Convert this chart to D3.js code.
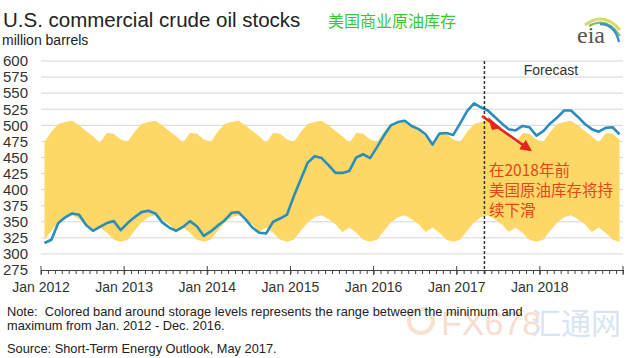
<!DOCTYPE html>
<html><head><meta charset="utf-8">
<script src="https://cdn.jsdelivr.net/npm/d3@7"></script>
<style>body{margin:0;background:#fff}svg{display:block}text{white-space:pre}</style>
</head><body>
<svg id="c" width="630" height="358"></svg>
<script>
// ---- data (million barrels), monthly Jan 2012 .. Dec 2018 ----
const stocks = [
 317,322,348,357,363,361,345,336,342,348,351,337,
 348,357,365,367,363,349,341,336,342,351,343,328,
 335,344,352,364,365,354,341,333,332,350,355,361,
 390,416,442,452,449,438,426,426,429,450,455,449,
 466,484,500,505,507,499,494,486,470,487,488,485,
 503,522,534,528,523,513,503,494,492,499,497,484,
 491,503,512,523,523,513,502,494,490,496,497,486];
// 2012-2016 monthly max / min (Jan..Dec)
const bandUpperByMonth = [474,490,502,505,507,500,491,483,473,488,487,478];
const bandLowerByMonth = [322,336,349,357,360,354,346,334,341,333,322,319];
const yTicks = [275,300,325,350,375,400,425,450,475,500,525,550,575,600];
const xYears = [2012,2013,2014,2015,2016,2017,2018];
const forecastStartMonth = 64; // May 2017
const totalMonths = 84;

const svg = d3.select("#c");
const F = "'Liberation Sans', Arial, sans-serif";
const CJK = "'Noto Sans CJK SC', sans-serif";

const x = d3.scaleLinear().domain([0, totalMonths]).range([41, 623]);
const y = d3.scaleLinear().domain([275, 600]).range([270, 61]);

// watermark (faint)
const wm = svg.append("g").attr("opacity", 0.4);
wm.append("circle").attr("cx", 421).attr("cy", 321).attr("r", 12)
  .attr("fill", "none").attr("stroke", "#f4b48e").attr("stroke-width", 4);
wm.append("text").attr("x", 441).attr("y", 335).attr("font-family", F)
  .attr("font-size", 34).attr("fill", "#f5a98a").text("FX678");
wm.append("text").attr("x", 531).attr("y", 334).attr("font-family", CJK)
  .attr("font-size", 30).attr("fill", "#9fbde0").text("汇通网");

// gridlines
svg.append("g").selectAll("line").data(yTicks.filter(d => d > 275)).join("line")
  .attr("x1", x(0)).attr("x2", x(totalMonths))
  .attr("y1", d => y(d)).attr("y2", d => y(d))
  .attr("stroke", "#d6d6d6").attr("stroke-width", 1);

// band
const months = d3.range(totalMonths);
const area = d3.area()
  .x(i => x(i + 0.5))
  .y0(i => y(bandLowerByMonth[i % 12]))
  .y1(i => y(bandUpperByMonth[i % 12]));
svg.append("path").datum(months).attr("d", area).attr("fill", "#fdd866");

// line
const line = d3.line().x((d, i) => x(i + 0.5)).y(d => y(d));
svg.append("path").datum(stocks).attr("d", line)
  .attr("fill", "none").attr("stroke", "#2b8dbb").attr("stroke-width", 2.6)
  .attr("stroke-linejoin", "round");

// y axis
const ya = svg.append("g").attr("transform", "translate(28,0)")
  .call(d3.axisLeft(y).tickValues(yTicks).tickSize(0).tickPadding(0));
ya.select(".domain").remove();
ya.selectAll("text").attr("font-family", F).attr("font-size", 15).attr("fill", "#333");

// x axis
const xa = svg.append("g").attr("transform", `translate(0,${y(275)})`)
  .call(d3.axisBottom(x).tickValues(d3.range(0, totalMonths + 1)).tickSize(4).tickFormat(""));
xa.select(".domain").attr("stroke", "#444");
xa.selectAll(".tick line").attr("stroke", "#444");
const majors = xYears.map(yr => (yr - 2012) * 12).concat([totalMonths]);
svg.append("g").selectAll("line").data(majors).join("line")
  .attr("x1", d => x(d)).attr("x2", d => x(d))
  .attr("y1", y(275) - 4).attr("y2", y(275) + 5)
  .attr("stroke", "#444").attr("stroke-width", 1);
svg.append("g").selectAll("text").data(xYears).join("text")
  .attr("x", d => x((d - 2012) * 12)).attr("y", 292)
  .attr("text-anchor", "middle").attr("font-family", F).attr("font-size", 14)
  .attr("fill", "#333").text(d => "Jan " + d);

// forecast divider
svg.append("line").attr("x1", x(forecastStartMonth)).attr("x2", x(forecastStartMonth))
  .attr("y1", y(600)).attr("y2", y(275) + 5)
  .attr("stroke", "#333").attr("stroke-width", 1.5).attr("stroke-dasharray", "3,2");
svg.append("text").attr("x", 551).attr("y", 75).attr("text-anchor", "middle")
  .attr("font-family", F).attr("font-size", 14).attr("fill", "#333").text("Forecast");

// red arrow annotation
const defs = svg.append("defs");
defs.append("marker").attr("id", "ah").attr("viewBox", "0 0 10 10").attr("refX", 8).attr("refY", 5)
  .attr("markerWidth", 4.5).attr("markerHeight", 4.5).attr("orient", "auto")
  .append("path").attr("d", "M0,0L10,5L0,10z").attr("fill", "#e8231c");
svg.append("line").attr("x1", 482).attr("y1", 116).attr("x2", 530).attr("y2", 150)
  .attr("stroke", "#e8231c").attr("stroke-width", 2.6).attr("marker-end", "url(#ah)");
svg.append("path").attr("d", "M488,117 L501,128 L492,130 Z").attr("fill", "#e8231c");

const ann = ["在2018年前", "美国原油库存将持", "续下滑"];
svg.append("g").selectAll("text").data(ann).join("text")
  .attr("x", 489).attr("y", (d, i) => 176 + i * 20)
  .attr("font-family", CJK).attr("font-size", 15.5).attr("fill", "#e3461c").text(d => d);

// titles
svg.append("text").attr("x", 3).attr("y", 27).attr("font-family", F).attr("font-size", 20.5)
  .attr("fill", "#222").text("U.S. commercial crude oil stocks");
svg.append("text").attr("x", 2).attr("y", 45).attr("font-family", F).attr("font-size", 14)
  .attr("fill", "#222").text("million barrels");
svg.append("text").attr("x", 328).attr("y", 27).attr("font-family", CJK).attr("font-size", 16)
  .attr("fill", "#36c836").text("美国商业原油库存");

// eia logo
svg.append("path").attr("d", "M585,25 Q604,11 620,30").attr("fill", "none")
  .attr("stroke", "#d7d96a").attr("stroke-width", 2.8);
svg.append("path").attr("d", "M589,26 Q607,16 620,36").attr("fill", "none")
  .attr("stroke", "#7bbf72").attr("stroke-width", 2.2);
svg.append("path").attr("d", "M600,24 Q615,24 619,42").attr("fill", "none")
  .attr("stroke", "#3f8fc9").attr("stroke-width", 2.4);
svg.append("text").attr("x", 577).attr("y", 43).attr("font-family", "'Liberation Serif', serif")
  .attr("font-size", 24).attr("fill", "#555").text("eia");

// notes
const notes = [
  {t: "Note:  Colored band around storage levels represents the range between the minimum and", y: 315.5},
  {t: "maximum from Jan. 2012 - Dec. 2016.", y: 330},
  {t: "Source: Short-Term Energy Outlook, May 2017.", y: 353}];
svg.append("g").selectAll("text").data(notes).join("text")
  .attr("x", 7).attr("y", d => d.y).attr("font-family", F).attr("font-size", 12.8)
  .attr("fill", "#222").text(d => d.t);
</script>
</body></html>
